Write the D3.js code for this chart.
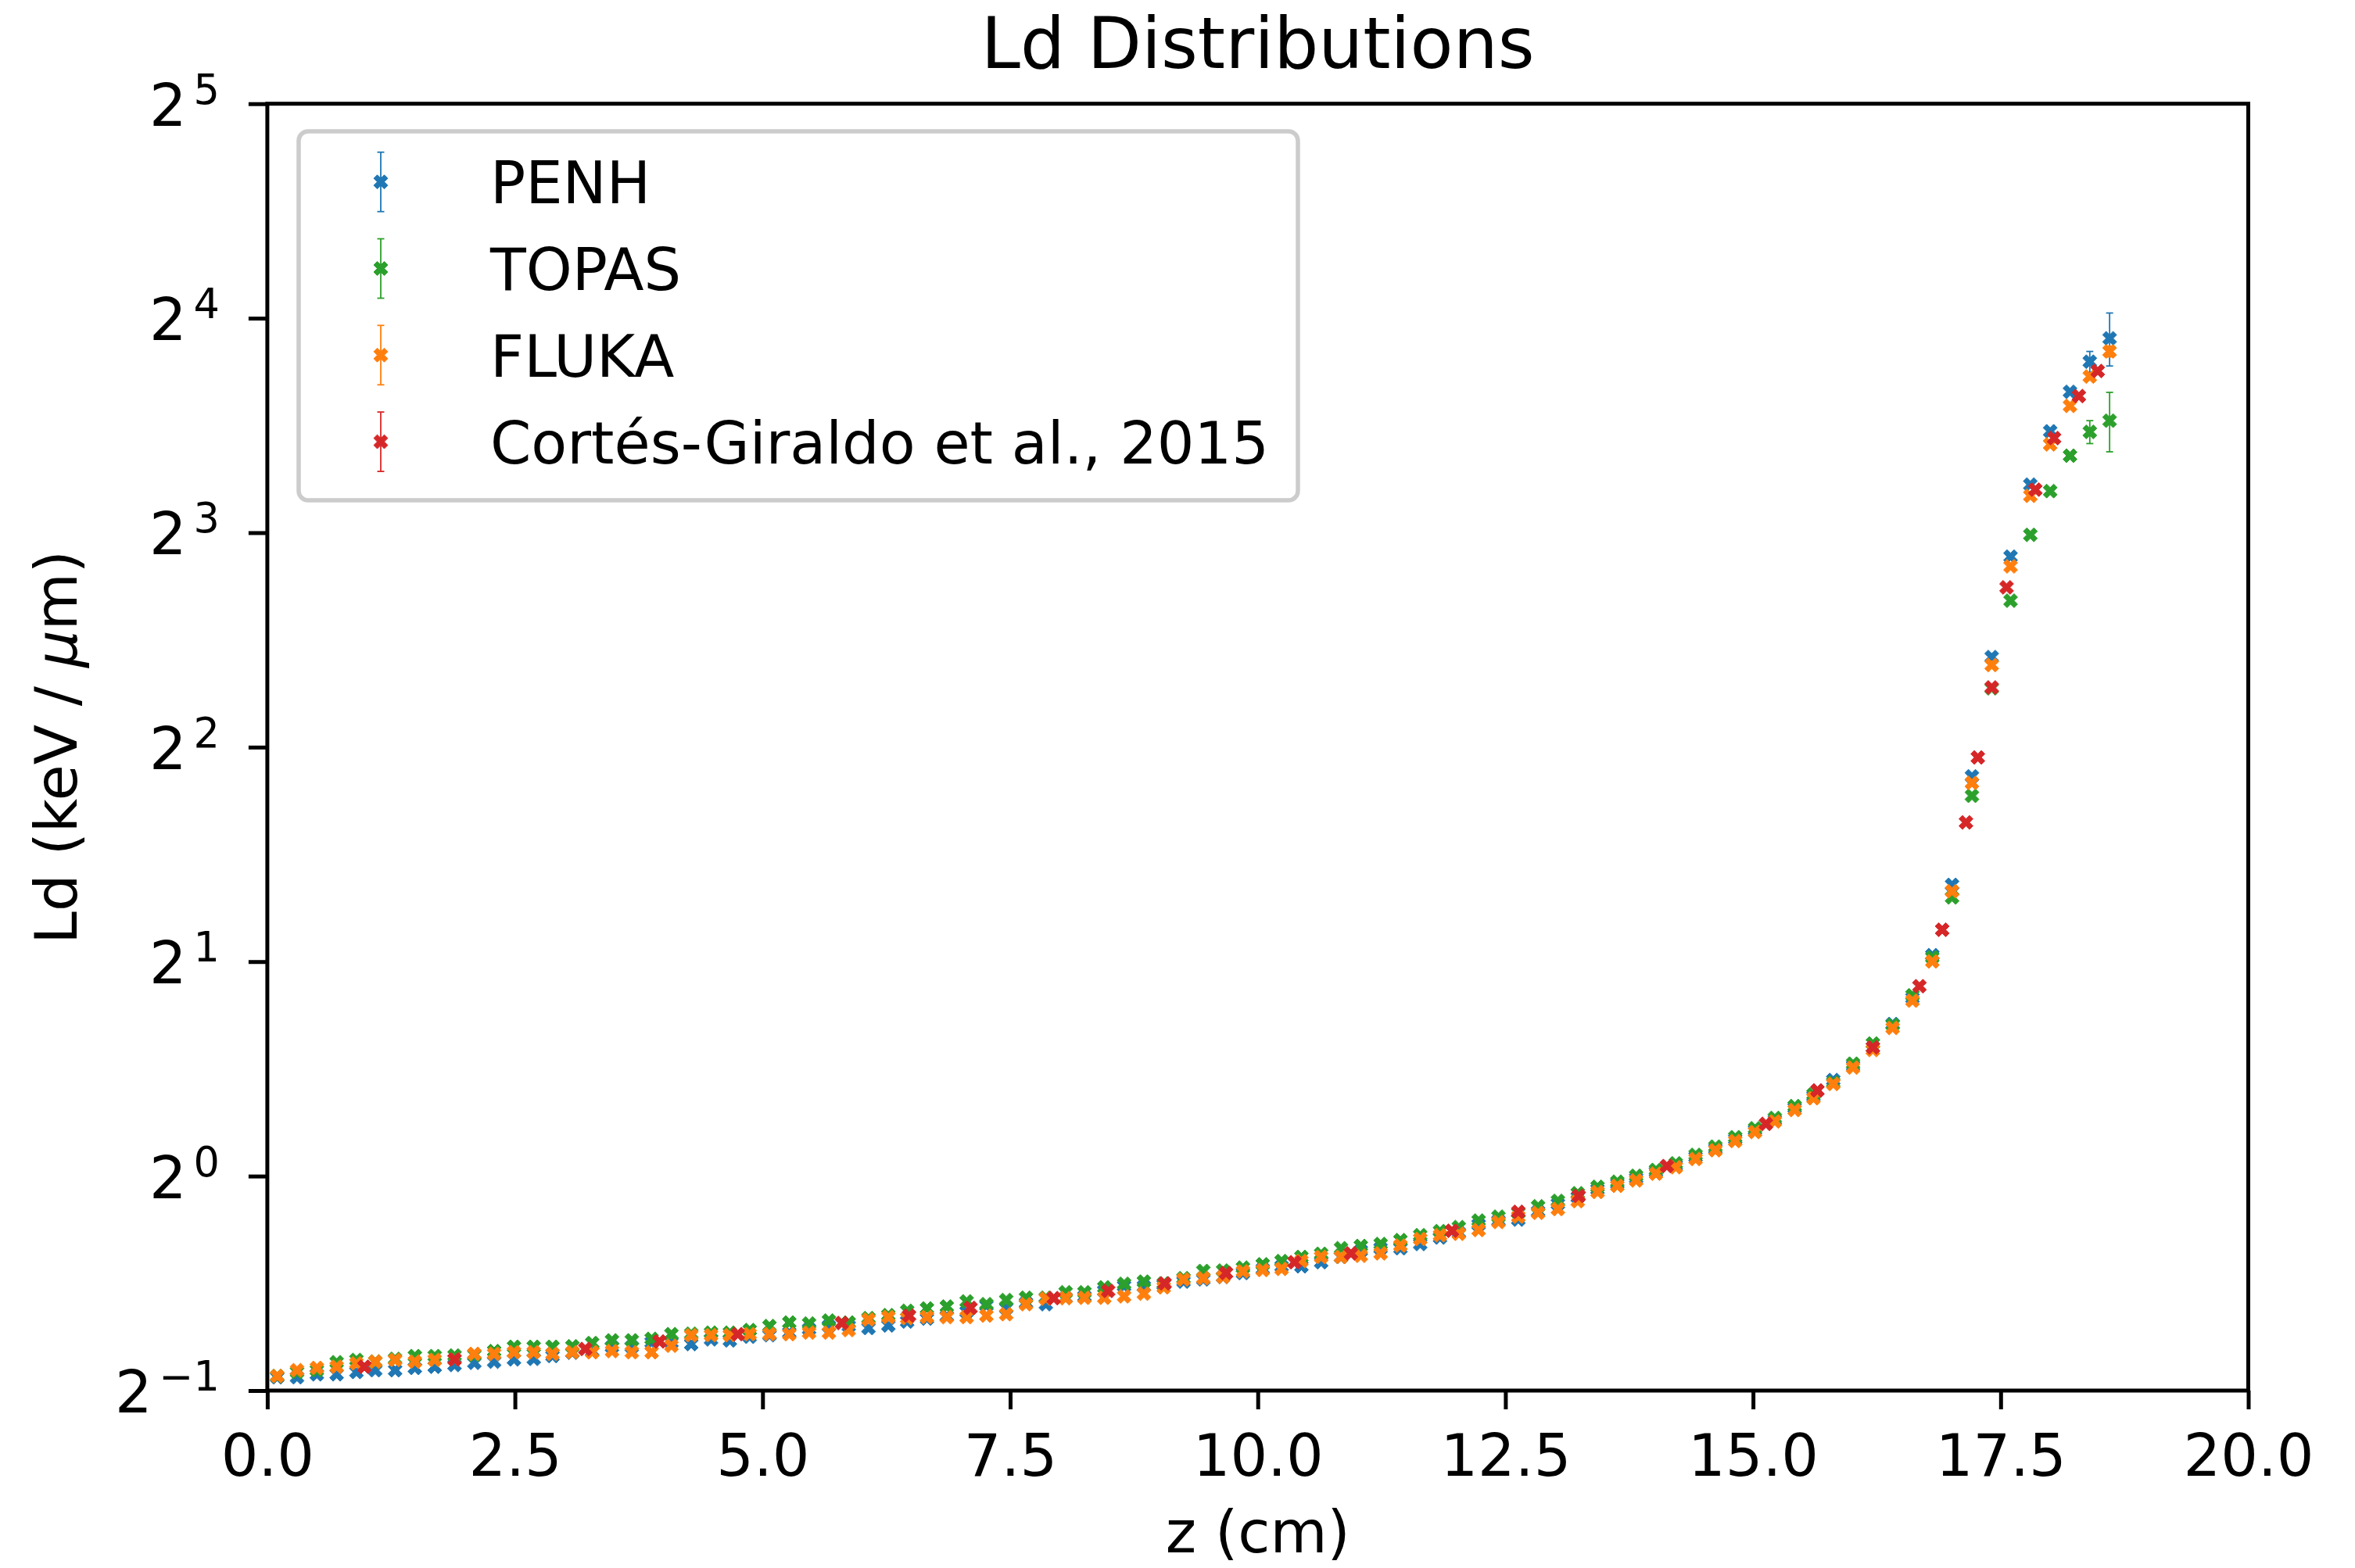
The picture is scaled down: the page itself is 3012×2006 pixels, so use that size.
<!DOCTYPE html>
<html>
<head>
<meta charset="utf-8">
<script src="https://cdn.jsdelivr.net/npm/d3@7"></script>
<style>
  body { margin: 0; background: #fff; }
  text { font-family: "DejaVu Sans", sans-serif; fill: #000; }
</style>
</head>
<body>
<div id="chart"></div>
<script>
// depth grid (cm) shared by the three MC codes
var zGrid = [0.10, 0.30, 0.50, 0.70, 0.90, 1.09, 1.29, 1.49, 1.69, 1.89,
  2.09, 2.29, 2.49, 2.69, 2.88, 3.08, 3.28, 3.48, 3.68, 3.88,
  4.08, 4.28, 4.48, 4.67, 4.87, 5.07, 5.27, 5.47, 5.67, 5.87,
  6.07, 6.27, 6.46, 6.66, 6.86, 7.06, 7.26, 7.46, 7.66, 7.86,
  8.06, 8.25, 8.45, 8.65, 8.85, 9.05, 9.25, 9.45, 9.65, 9.85,
  10.05, 10.24, 10.44, 10.64, 10.84, 11.04, 11.24, 11.44, 11.64, 11.84,
  12.03, 12.23, 12.43, 12.63, 12.83, 13.03, 13.23, 13.43, 13.63, 13.82,
  14.02, 14.22, 14.42, 14.62, 14.82, 15.02, 15.22, 15.42, 15.61, 15.81,
  16.01, 16.21, 16.41, 16.61, 16.81, 17.01, 17.21, 17.41, 17.60, 17.80,
  18.00, 18.20, 18.40, 18.60];

var penhLd = [0.522, 0.522, 0.527, 0.527, 0.531, 0.534, 0.534, 0.538, 0.540, 0.543,
  0.547, 0.549, 0.553, 0.554, 0.559, 0.565, 0.568, 0.576, 0.576, 0.584,
  0.584, 0.581, 0.590, 0.588, 0.595, 0.598, 0.603, 0.610, 0.616, 0.616,
  0.612, 0.617, 0.625, 0.631, 0.636, 0.645, 0.658, 0.653, 0.664, 0.661,
  0.675, 0.678, 0.690, 0.701, 0.700, 0.704, 0.711, 0.716, 0.722, 0.731,
  0.741, 0.747, 0.747, 0.757, 0.770, 0.786, 0.792, 0.792, 0.803, 0.820,
  0.833, 0.855, 0.866, 0.869, 0.892, 0.914, 0.934, 0.958, 0.976, 0.993,
  1.014, 1.035, 1.064, 1.093, 1.127, 1.160, 1.199, 1.247, 1.294, 1.364,
  1.429, 1.516, 1.635, 1.778, 2.042, 2.563, 3.640, 5.352, 7.403, 9.343,
  11.10, 12.61, 13.90, 14.99];

var topasLd = [0.524, 0.531, 0.534, 0.548, 0.552, 0.549, 0.554, 0.559, 0.559, 0.560,
  0.561, 0.568, 0.576, 0.576, 0.576, 0.577, 0.583, 0.588, 0.588, 0.591,
  0.600, 0.601, 0.603, 0.603, 0.608, 0.616, 0.623, 0.621, 0.627, 0.623,
  0.632, 0.638, 0.647, 0.652, 0.656, 0.667, 0.661, 0.670, 0.675, 0.675,
  0.687, 0.687, 0.698, 0.706, 0.711, 0.707, 0.719, 0.736, 0.737, 0.744,
  0.752, 0.760, 0.770, 0.778, 0.792, 0.798, 0.803, 0.813, 0.826, 0.837,
  0.848, 0.866, 0.877, 0.888, 0.907, 0.923, 0.946, 0.966, 0.982, 1.001,
  1.020, 1.042, 1.071, 1.100, 1.134, 1.167, 1.207, 1.254, 1.302, 1.353,
  1.438, 1.535, 1.630, 1.794, 2.028, 2.461, 3.418, 4.838, 6.422, 7.945,
  9.151, 10.26, 11.08, 11.49];

var flukaLd = [0.524, 0.534, 0.538, 0.540, 0.546, 0.549, 0.552, 0.549, 0.552, 0.553,
  0.563, 0.563, 0.566, 0.566, 0.563, 0.566, 0.566, 0.568, 0.566, 0.566,
  0.578, 0.598, 0.598, 0.598, 0.600, 0.600, 0.600, 0.603, 0.603, 0.608,
  0.629, 0.634, 0.632, 0.634, 0.634, 0.634, 0.637, 0.640, 0.661, 0.673,
  0.674, 0.675, 0.675, 0.678, 0.684, 0.698, 0.716, 0.719, 0.722, 0.735,
  0.738, 0.741, 0.760, 0.770, 0.770, 0.773, 0.779, 0.799, 0.816, 0.826,
  0.830, 0.840, 0.862, 0.877, 0.888, 0.899, 0.922, 0.950, 0.969, 0.986,
  1.008, 1.029, 1.057, 1.087, 1.120, 1.153, 1.193, 1.238, 1.286, 1.347,
  1.420, 1.503, 1.614, 1.763, 2.001, 2.511, 3.563, 5.216, 7.175, 9.013,
  10.64, 12.05, 13.25, 14.37];

// reference data set, its own depths
var cortesZ = [0.98, 1.89, 3.21, 3.96, 4.75, 5.80, 6.48, 7.10, 7.94, 8.49,
  9.06, 9.68, 10.37, 10.94, 11.96, 12.63, 13.24, 14.13, 15.13, 15.65,
  16.21, 16.68, 16.91, 17.15, 17.27, 17.41, 17.56, 17.85, 18.04, 18.29, 18.48];
var cortesLd = [0.540, 0.553, 0.572, 0.586, 0.600, 0.622, 0.637, 0.653, 0.674, 0.690,
  0.707, 0.731, 0.757, 0.779, 0.838, 0.891, 0.938, 1.033, 1.184, 1.319,
  1.516, 1.847, 2.217, 3.136, 3.869, 4.851, 6.704, 9.195, 10.86, 12.44, 13.49];

// error bars that show out of the markers, as [z, sigma]
var penhErr = [[18.40, 0.47], [18.60, 1.28]];
var topasErr = [[18.40, 0.41], [18.60, 1.10]];
var flukaErr = [[18.60, 0.25]];
var cortesErr = [];

var seriesNames = ["PENH", "TOPAS", "FLUKA", "Cortés-Giraldo et al., 2015"];
var seriesColors = ["#1f77b4", "#2ca02c", "#ff7f0e", "#d62728"];
var xTicks = [0, 2.5, 5, 7.5, 10, 12.5, 15, 17.5, 20];
var yExponents = [-1, 0, 1, 2, 3, 4, 5];

var W = 3012, H = 2006;
var margin = {top: 132.7, right: 136.5, bottom: 227, left: 341.9},
    width = W - margin.left - margin.right,
    height = H - margin.top - margin.bottom;

var x = d3.scaleLinear().domain([0, 20]).range([0, width]);
var y = d3.scaleLog().base(2).domain([0.5, 32]).range([height, 0]);

// filled "X" marker (plus shape turned 45 deg)
var xFilled = {
  draw: function(ctx, s) {
    var pts = [[-1,-3],[1,-3],[1,-1],[3,-1],[3,1],[1,1],[1,3],[-1,3],[-1,1],[-3,1],[-3,-1],[-1,-1]];
    var c = Math.SQRT1_2;
    pts.forEach(function(p, i) {
      var px = (p[0] - p[1]) * c * s / 6, py = (p[0] + p[1]) * c * s / 6;
      if (i === 0) ctx.moveTo(px, py); else ctx.lineTo(px, py);
    });
    ctx.closePath();
  }
};
var marker = d3.symbol().type(xFilled).size(19);

function errOf(list, z) {
  var hit = list.find(function(e) { return Math.abs(e[0] - z) < 0.005; });
  return hit ? hit[1] : 0;
}

var series = [
  {name: seriesNames[0], color: seriesColors[0], pts: zGrid.map(function(z, i) { return {z: z, v: penhLd[i], e: errOf(penhErr, z)}; })},
  {name: seriesNames[1], color: seriesColors[1], pts: zGrid.map(function(z, i) { return {z: z, v: topasLd[i], e: errOf(topasErr, z)}; })},
  {name: seriesNames[2], color: seriesColors[2], pts: zGrid.map(function(z, i) { return {z: z, v: flukaLd[i], e: errOf(flukaErr, z)}; })},
  {name: seriesNames[3], color: seriesColors[3], pts: cortesZ.map(function(z, i) { return {z: z, v: cortesLd[i], e: errOf(cortesErr, z)}; })}
];

var svg = d3.select("#chart").append("svg")
    .attr("width", W).attr("height", H);
svg.append("rect").attr("width", W).attr("height", H).attr("fill", "#fff");

var g = svg.append("g")
    .attr("transform", "translate(" + margin.left + "," + margin.top + ")");

// points, one group per code so later ones sit on top
series.forEach(function(s) {
  var sg = g.append("g").attr("class", "series");
  var withErr = s.pts.filter(function(d) { return d.e > 0; });
  sg.selectAll(".ebar").data(withErr).enter().append("line")
    .attr("x1", function(d) { return x(d.z); })
    .attr("x2", function(d) { return x(d.z); })
    .attr("y1", function(d) { return y(d.v - d.e); })
    .attr("y2", function(d) { return y(d.v + d.e); })
    .attr("stroke", s.color).attr("stroke-width", 1.8);
  [-1, 1].forEach(function(sign) {
    sg.selectAll(".cap" + sign).data(withErr).enter().append("line")
      .attr("x1", function(d) { return x(d.z) - 4.5; })
      .attr("x2", function(d) { return x(d.z) + 4.5; })
      .attr("y1", function(d) { return y(d.v + sign * d.e); })
      .attr("y2", function(d) { return y(d.v + sign * d.e); })
      .attr("stroke", s.color).attr("stroke-width", 1.8);
  });
  sg.selectAll(".dot").data(s.pts).enter().append("path")
    .attr("class", "dot")
    .attr("d", marker)
    .attr("transform", function(d) { return "translate(" + x(d.z) + "," + y(d.v) + ")"; })
    .attr("fill", s.color)
    .attr("stroke", s.color)
    .attr("stroke-width", 1);
});

// x axis
var xAxis = d3.axisBottom(x).tickValues(xTicks).tickFormat(d3.format(".1f"))
    .tickSize(24).tickSizeOuter(0).tickPadding(32);
var xg = g.append("g").attr("transform", "translate(0," + height + ")").call(xAxis);
xg.select(".domain").remove();
xg.selectAll(".tick line").attr("stroke", "#000").attr("stroke-width", 5);
xg.selectAll(".tick text").attr("font-size", 75).attr("font-family", "DejaVu Sans").attr("fill", "#000");

// y axis (log base 2, labels as powers)
var yAxis = d3.axisLeft(y).tickValues(yExponents.map(function(k) { return Math.pow(2, k); }))
    .tickFormat(function() { return ""; }).tickSize(24).tickSizeOuter(0);
var yg = g.append("g").call(yAxis);
yg.select(".domain").remove();
yg.selectAll(".tick line").attr("stroke", "#000").attr("stroke-width", 5);
yg.selectAll(".tick text").remove();

yExponents.forEach(function(k) {
  var ty = margin.top + y(Math.pow(2, k));
  var t = svg.append("text")
    .attr("x", 281).attr("y", ty + 28)
    .attr("text-anchor", "end")
    .attr("font-size", 75);
  t.append("tspan").text("2");
  t.append("tspan").attr("dx", 9).attr("dy", -28).attr("font-size", 52.5)
    .text(k < 0 ? "\u2212" + Math.abs(k) : String(k));
});

// frame
g.append("rect").attr("width", width).attr("height", height)
  .attr("fill", "none").attr("stroke", "#000").attr("stroke-width", 5);

// titles
svg.append("text").attr("x", margin.left + width / 2).attr("y", 87)
  .attr("text-anchor", "middle").attr("font-size", 90).text("Ld Distributions");
svg.append("text").attr("x", margin.left + width / 2).attr("y", 1986)
  .attr("text-anchor", "middle").attr("font-size", 75).text("z (cm)");
var yl = svg.append("text")
  .attr("transform", "translate(98," + (margin.top + height / 2) + ") rotate(-90)")
  .attr("text-anchor", "middle").attr("font-size", 75);
yl.append("tspan").text("Ld (keV / ");
yl.append("tspan").attr("font-style", "italic").text("\u03bc");
yl.append("tspan").text("m)");

// legend
var lg = svg.append("g");
lg.append("rect").attr("x", 382).attr("y", 168).attr("width", 1278).attr("height", 472)
  .attr("rx", 12).attr("fill", "#fff").attr("fill-opacity", 0.8)
  .attr("stroke", "#cccccc").attr("stroke-width", 5.5);
series.forEach(function(s, j) {
  var cy = 232.7 + j * 110.8, hx = 487;
  lg.append("line").attr("x1", hx).attr("x2", hx).attr("y1", cy - 38).attr("y2", cy + 38)
    .attr("stroke", s.color).attr("stroke-width", 1.8);
  [-38, 38].forEach(function(o) {
    lg.append("line").attr("x1", hx - 4.5).attr("x2", hx + 4.5).attr("y1", cy + o).attr("y2", cy + o)
      .attr("stroke", s.color).attr("stroke-width", 1.8);
  });
  lg.append("path").attr("d", marker).attr("transform", "translate(" + hx + "," + cy + ")")
    .attr("fill", s.color).attr("stroke", s.color).attr("stroke-width", 1);
  lg.append("text").attr("x", 627).attr("y", cy + 27.5).attr("font-size", 75).text(s.name);
});
</script>
</body>
</html>
